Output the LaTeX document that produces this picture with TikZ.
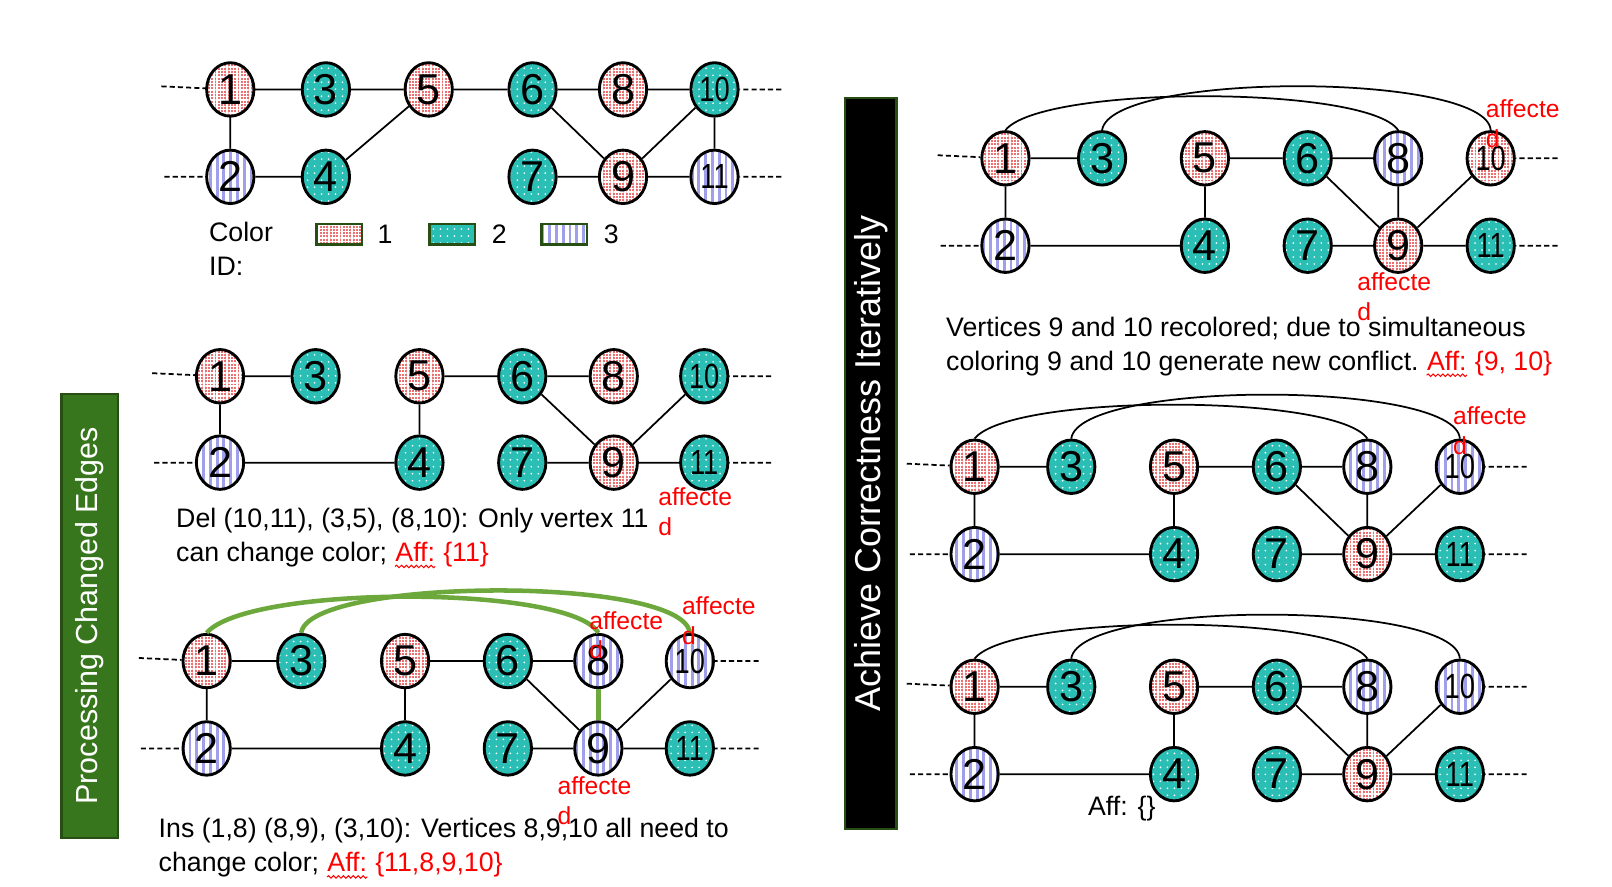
\documentclass[tikz,border=0pt]{standalone}
\usepackage{fontspec}
\setmainfont{Liberation Sans}
\newfontfamily\narrowfont{Liberation Sans}[FakeStretch=0.78]
\usetikzlibrary{shapes.geometric,patterns.meta,calc,decorations.pathmorphing}
\definecolor{tealc}{RGB}{43,190,180}
\definecolor{pinkc}{RGB}{236,112,112}
\definecolor{stripec}{RGB}{160,160,234}
\definecolor{barG}{RGB}{56,118,29}
\definecolor{barB}{RGB}{39,78,19}
\definecolor{greenedge}{RGB}{108,168,60}
\definecolor{affred}{RGB}{255,0,0}
\tikzset{
  pR/.style={preaction={fill=pinkc}, pattern={Hatch[distance=1.6pt,line width=0.65pt]}, pattern color=white},
  pT/.style={preaction={fill=tealc}, pattern={Dots[distance=3.4pt,radius=0.45pt]}, pattern color=white},
  pS/.style={preaction={fill=white}, pattern={Lines[angle=90,distance=3.3pt,line width=1.4pt]}, pattern color=stripec},
  vx/.style={ellipse, draw=black, line width=1.4pt, minimum width=23pt, minimum height=26pt, inner sep=0pt, font=\fontsize{21}{21}\selectfont},
  vR/.style={vx,pR}, vT/.style={vx,pT}, vS/.style={vx,pS},
  dd/.style={font=\narrowfont\fontsize{17}{17}\selectfont},
  vRd/.style={vR,dd}, vTd/.style={vT,dd}, vSd/.style={vS,dd},
  ed/.style={draw=black, line width=0.85pt},
  gedge/.style={draw=greenedge, line width=2.2pt},
  stub/.style={draw=black, line width=0.85pt, dash pattern=on 2.5pt off 1.5pt},
  txt/.style={font=\fontsize{13}{16.5}\selectfont, inner sep=0pt, anchor=base west},
  afl/.style={font=\fontsize{12}{14.5}\selectfont, text=affred, inner sep=0pt, anchor=base west},
  wavy/.style={draw=affred, line width=0.5pt, decorate, decoration={snake, amplitude=0.6pt, segment length=2.4pt}},
  lbox/.style={rectangle, draw=barB, line width=1.3pt, minimum width=22pt, minimum height=10pt, inner sep=0pt},
  barbox/.style={rectangle, rotate=90, text=white, inner sep=0pt},
}
\newcommand\rightgraph[4]{%
  \begin{scope}[shift={(#2,#3)}]
    \foreach \n/\px/\py/\st in {1/0/0/vR,3/94/0/vT,5/194/0/vR,6/294/0/vT,8/382/0/vS,10/472/0/#4,2/0/85/vS,4/194/85/vT,7/294/85/vT,9/382/85/vR,11/472/85/vTd}
      \node[\st] (#1\n) at (\px,\py) {\n};
    \coordinate (#1L1) at (-66,-3);
    \coordinate (#1L2) at (-63,85);
    \coordinate (#1R10) at (537,0);
    \coordinate (#1R11) at (537,85);
  \end{scope}
  \draw[stub] (#1L1) -- (#11) (#1L2) -- (#12) (#1R10) -- (#110) (#1R11) -- (#111);
  \draw[ed] (#11)--(#13) (#15)--(#16) (#16)--(#18) (#11)--(#12) (#12)--(#14) (#14)--(#15)
            (#16)--(#19) (#18)--(#19) (#19)--(#110) (#17)--(#19) (#19)--(#111);
  \draw[ed] (#11.north) .. controls ($(#11.north)+(35,-44)$) and ($(#18.north)+(-30,-44)$) .. (#18.north);
  \draw[ed] (#13.north) .. controls ($(#13.north)+(8,-57)$) and ($(#110.north)+(-4,-57)$) .. (#110.north);
}
\begin{document}
\begin{tikzpicture}[x=0.5pt,y=-0.5pt]
\useasboundingbox (0,0) rectangle (1568,862);

% ---------- Graph A (top left) ----------
\begin{scope}[shift={(224,87)}]
  \foreach \n/\px/\py/\st in {1/0/0/vR,3/93/0/vT,5/193/0/vR,6/294/0/vT,8/382/0/vR,10/471/0/vTd,2/0/85/vS,4/93/85/vT,7/294/85/vT,9/382/85/vR,11/471/85/vSd}
    \node[\st] (a\n) at (\px,\py) {\n};
  \coordinate (aL1) at (-67,-3);
  \coordinate (aL2) at (-64,85);
  \coordinate (aR10) at (536,0);
  \coordinate (aR11) at (536,85);
\end{scope}
\draw[stub] (aL1) -- (a1) (aL2) -- (a2) (aR10) -- (a10) (aR11) -- (a11);
\draw[ed] (a1)--(a3) (a3)--(a5) (a5)--(a6) (a6)--(a8) (a8)--(a10) (a1)--(a2) (a2)--(a4) (a4)--(a5)
          (a7)--(a9) (a9)--(a11) (a6)--(a9) (a9)--(a10) (a10)--(a11);

% legend
\node[txt] (cid) at (203,235) {\vtop{\hbox{Color}\hbox{ID:}}};
\node[lbox,pR] (lg1) at (330,228) {};
\node[lbox,pT] (lg2) at (440,228) {};
\node[lbox,pS] (lg3) at (549,228) {};
\node[txt] (lg1t) at (367,237) {1};
\node[txt] (lg2t) at (478,237) {2};
\node[txt] (lg3t) at (587,237) {3};

% ---------- Graph B (middle left) ----------
\begin{scope}[shift={(214,366)}]
  \foreach \n/\px/\py/\st in {1/0/0/vR,3/93/0/vT,5/194/0/vR,6/294/0/vT,8/383/0/vR,10/471/0/vTd,2/0/84/vS,4/194/84/vT,7/294/84/vT,9/383/84/vR,11/471/84/vTd}
    \node[\st] (b\n) at (\px,\py) {\n};
  \coordinate (bL1) at (-66,-3);
  \coordinate (bL2) at (-64,84);
  \coordinate (bR10) at (536,0);
  \coordinate (bR11) at (536,84);
\end{scope}
\draw[stub] (bL1) -- (b1) (bL2) -- (b2) (bR10) -- (b10) (bR11) -- (b11);
\draw[ed] (b1)--(b3) (b5)--(b6) (b6)--(b8) (b1)--(b2) (b2)--(b4) (b5)--(b4)
          (b6)--(b9) (b9)--(b10) (b7)--(b9) (b9)--(b11);
\node[afl] (baf) at (640,492) {\vtop{\hbox{affecte}\hbox{d}}};
\node[txt] (bt1) at (171,513) {Del (10,11), (3,5), (8,10): Only vertex 11};
\node[txt] (bt2) at (171,546) {can change color;};
\node[txt, text=affred, xshift=3.6pt] (bta) at (bt2.base east) {Aff:};
\node[txt, text=affred, xshift=3.6pt] (btb) at (bta.base east) {\{11\}};
\draw[wavy] ($(bta.base west)+(0,5)$) -- ($(bta.base east)+(0,5)$);

% ---------- Graph C (bottom left) ----------
\begin{scope}[shift={(201,643)}]
  \foreach \n/\px/\py/\st in {1/0/0/vR,3/92/0/vT,5/193/0/vR,6/293/0/vT,8/381/0/vS,10/470/0/vSd,2/0/85/vS,4/193/85/vT,7/293/85/vT,9/381/85/vS,11/470/85/vTd}
    \node[\st] (c\n) at (\px,\py) {\n};
  \coordinate (cL1) at (-66,-3);
  \coordinate (cL2) at (-64,85);
  \coordinate (cR10) at (537,0);
  \coordinate (cR11) at (537,85);
\end{scope}
\draw[stub] (cL1) -- (c1) (cL2) -- (c2) (cR10) -- (c10) (cR11) -- (c11);
\draw[ed] (c1)--(c3) (c5)--(c6) (c6)--(c8) (c1)--(c2) (c2)--(c4) (c5)--(c4)
          (c6)--(c9) (c9)--(c10) (c7)--(c9) (c9)--(c11);
\draw[gedge] (c8) -- (c9);
\draw[gedge] (c1.north) .. controls ($(c1.north)+(40,-47)$) and ($(c8.north)+(-27,-47)$) .. (c8.north);
\draw[gedge] (c3.north) .. controls ($(c3.north)+(7,-54)$) and ($(c10.north)+(-6,-56)$) .. (c10.north);
\node[afl] (caf8) at (573,612) {\vtop{\hbox{affecte}\hbox{d}}};
\node[afl] (caf10) at (663,598) {\vtop{\hbox{affecte}\hbox{d}}};
\node[afl] (caf9) at (542,773) {\vtop{\hbox{affecte}\hbox{d}}};
\node[txt] (ct1) at (154,815) {Ins (1,8) (8,9), (3,10): Vertices 8,9,10 all need to};
\node[txt] (ct2) at (154,848) {change color;};
\node[txt, text=affred, xshift=3.6pt] (cta) at (ct2.base east) {Aff:};
\node[txt, text=affred, xshift=3.6pt] (ctb) at (cta.base east) {\{11,8,9,10\}};
\draw[wavy] ($(cta.base west)+(0,5)$) -- ($(cta.base east)+(0,5)$);

% ---------- bars ----------
\node[barbox, fill=barG, draw=barB, line width=1.2pt, minimum width=216pt, minimum height=27.5pt,
      font=\fontsize{14.8}{16}\selectfont] (pbar) at (87.5,599) {Processing Changed Edges};
\node[barbox, fill=black, draw=barB, line width=1pt, minimum width=355.5pt, minimum height=25pt,
      font=\fontsize{17.5}{19}\selectfont] (abar) at (847,450.5) {Achieve Correctness Iteratively};

% ---------- right graphs ----------
\rightgraph{d}{978}{154}{vRd}
\rightgraph{e}{948}{454}{vSd}
\rightgraph{f}{948}{668}{vSd}

\node[afl] (daf10) at (1445,114) {\vtop{\hbox{affecte}\hbox{d}}};
\node[afl] (daf9) at (1320,283) {\vtop{\hbox{affecte}\hbox{d}}};
\node[txt] (dt1) at (920,327) {Vertices 9 and 10 recolored; due to simultaneous};
\node[txt] (dt2) at (920,360) {coloring 9 and 10 generate new conflict.};
\node[txt, text=affred, xshift=3.6pt] (dta) at (dt2.base east) {Aff:};
\node[txt, text=affred, xshift=3.6pt] (dtb) at (dta.base east) {\{9, 10\}};
\draw[wavy] ($(dta.base west)+(0,5)$) -- ($(dta.base east)+(0,5)$);

\node[afl] (eaf10) at (1413,413) {\vtop{\hbox{affecte}\hbox{d}}};

\node[txt] (ft) at (1058,793) {Aff: \{\}};
\end{tikzpicture}
\end{document}
